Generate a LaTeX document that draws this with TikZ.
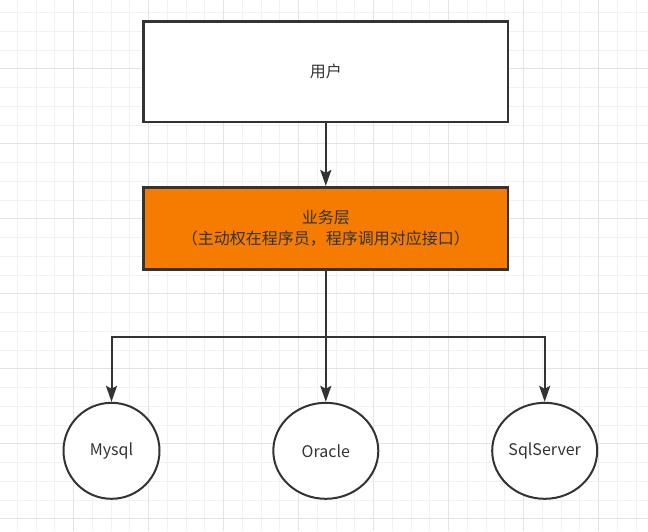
\documentclass[tikz,border=0pt]{standalone}
\usepackage{fontspec}
\setmainfont{Noto Sans CJK SC}
\usetikzlibrary{arrows.meta,positioning,shapes.geometric}
\definecolor{ink}{HTML}{333333}
\definecolor{bizorange}{HTML}{F57C00}
\definecolor{gridminor}{HTML}{F1F1F1}
\definecolor{gridmajor}{HTML}{E3E3E3}

\begin{document}
\begin{tikzpicture}[
  x=1pt, y=-1pt,
  box/.style={draw=ink, fill=white, line width=2.6pt,
              minimum width=364.5pt, minimum height=100.5pt,
              align=center, text=ink, font=\fontsize{16}{21}\selectfont},
  layer/.style={box, fill=bizorange, minimum height=82pt},
  db/.style={ellipse, draw=ink, fill=white, line width=2pt, inner sep=0pt,
             minimum width=105pt, minimum height=96pt,
             text=ink, font=\fontsize{16}{19}\selectfont},
  arr/.style={-{Stealth[length=16pt, width=11pt, inset=3pt]}, draw=ink, line width=2pt},
  gridfine/.style={draw=gridminor, line width=1pt},
  gridbold/.style={draw=gridmajor, line width=1pt}
]
\useasboundingbox (0,0) rectangle (648,531);

% background grid
\foreach \i in {0,...,33} \draw[gridfine] (17.3+18.75*\i,0) -- (17.3+18.75*\i,531);
\foreach \i in {0,...,27} \draw[gridfine] (0,12.7+18.75*\i) -- (648,12.7+18.75*\i);
\foreach \i in {0,...,7} \draw[gridbold] (73.3+75*\i,0) -- (73.3+75*\i,531);
\foreach \i in {0,...,6} \draw[gridbold] (0,68.3+75*\i) -- (648,68.3+75*\i);

\node[box] (user) at (325.8,71.7) {用户};
\node[layer, below=62.7pt of user] (biz) {业务层\\（主动权在程序员，程序调用对应接口）};

\node[db, minimum width=96pt] (mysql) at (111.5,450.8) {Mysql};
\node[db] (oracle) at (325.8,450.8) {Oracle};
\node[db] (sqlserver) at (544.7,450.8) {SqlServer};

\coordinate (fork) at (biz.south |- 0,337.3);

\draw[arr] (user) -- (biz);
\draw[arr] (biz.south) -- (fork) -| (mysql.north);
\draw[arr] (fork) -- (oracle.north);
\draw[arr] (fork) -| (sqlserver.north);
\end{tikzpicture}
\end{document}
